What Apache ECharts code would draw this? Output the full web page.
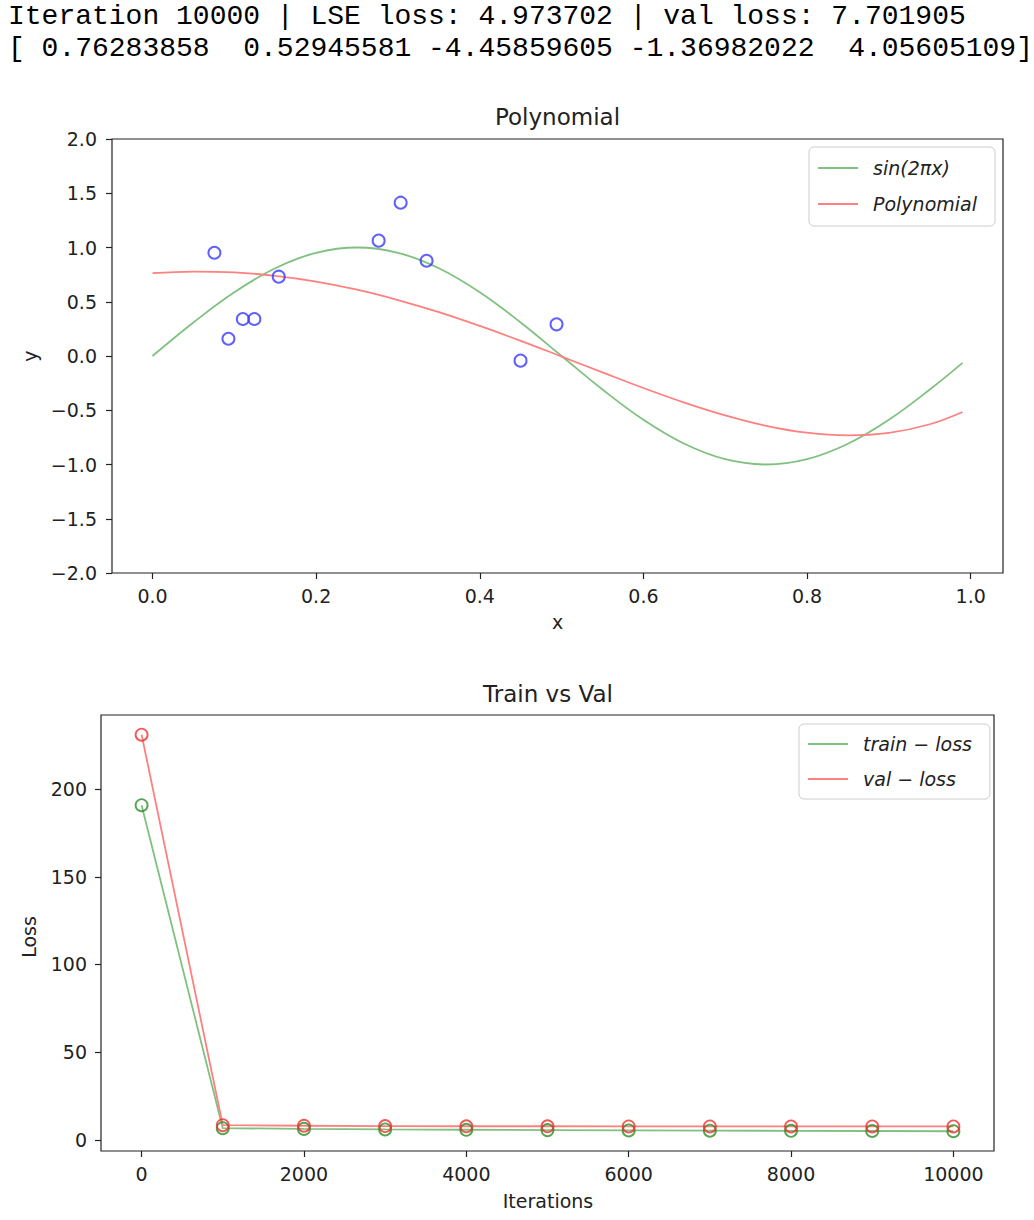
<!DOCTYPE html>
<html><head><meta charset="utf-8">
<script src="https://cdn.jsdelivr.net/npm/echarts@6/dist/echarts.min.js"></script>
<style>html,body{margin:0;padding:0;background:#fff}#c{width:1034px;height:1220px}</style>
</head><body><div id="c"></div>
<script>
// ---- header text ----
const headerLines = [
  "Iteration 10000 | LSE loss: 4.973702 | val loss: 7.701905",
  "[ 0.76283858  0.52945581 -4.45859605 -1.36982022  4.05605109]"
];
// ---- top chart: Polynomial ----
const curveX  = [0.00,0.05,0.10,0.15,0.20,0.25,0.30,0.35,0.40,0.45,0.50,0.55,0.60,0.65,0.70,0.75,0.80,0.85,0.90,0.95,0.99];
const sinY    = [0.000,0.309,0.588,0.809,0.951,1.000,0.951,0.809,0.588,0.309,0.000,-0.309,-0.588,-0.809,-0.951,-1.000,-0.951,-0.809,-0.588,-0.309,-0.063];
const polyY   = [0.763,0.778,0.770,0.739,0.686,0.611,0.516,0.404,0.277,0.140,-0.005,-0.151,-0.295,-0.429,-0.547,-0.643,-0.707,-0.732,-0.709,-0.629,-0.516];
const pointX  = [0.0757,0.0928,0.1104,0.1245,0.1543,0.2764,0.3033,0.3350,0.4498,0.4938];
const pointY  = [0.952,0.159,0.341,0.341,0.731,1.063,1.413,0.878,-0.043,0.292];
const topXTicks = [0.0,0.2,0.4,0.6,0.8,1.0];
// ---- bottom chart: Train vs Val ----
const iterations = [0,1000,2000,3000,4000,5000,6000,7000,8000,9000,10000];
const trainLoss  = [190.8,6.7,6.3,6.0,5.8,5.6,5.4,5.3,5.2,5.1,4.97];
const valLoss    = [231.0,8.4,8.1,7.9,7.8,7.8,7.7,7.7,7.7,7.7,7.70];
const botXTicks  = [0,2000,4000,6000,8000,10000];
const botYTicks  = [0,50,100,150,200];

const FONT = 'DejaVu Sans';
const TXT = '#222';
const zip = (a,b) => a.map((v,i)=>[v,b[i]]);
const minus = s => String(s).replace('-', '\u2212');

function xAxisCfg(grid, min, max, ticks, fmt){
  return {type:'value', gridIndex:grid, min, max,
    axisLine:{show:false, onZero:false}, splitLine:{show:false},
    axisTick:{show:true, inside:false, length:6, customValues:ticks, lineStyle:{color:'#222', width:1.2}},
    axisLabel:{customValues:ticks, formatter:fmt, fontFamily:FONT, fontSize:19, color:TXT, margin:13}};
}
function yAxisCfg(grid, min, max, extra, fmt){
  return Object.assign({type:'value', gridIndex:grid, min, max,
    axisLine:{show:false, onZero:false}, splitLine:{show:false},
    axisTick:{show:true, inside:false, length:6, lineStyle:{color:'#222', width:1.2}},
    axisLabel:{formatter:fmt, fontFamily:FONT, fontSize:19, color:TXT, margin:15}}, extra);
}
const yb = yAxisCfg(1, -6.3, 242.2, {}, v => String(v));
yb.axisTick.customValues = botYTicks; yb.axisLabel.customValues = botYTicks; yb.axisLabel.margin = 14;

const legendBase = {orient:'vertical', icon:'rect', itemWidth:40, itemHeight:2, selectedMode:false,
  borderColor:'#cccccc', borderWidth:1, borderRadius:5, backgroundColor:'rgba(255,255,255,0.8)',
  textStyle:{fontStyle:'italic', fontFamily:FONT, fontSize:19, color:TXT, padding:[0,0,0,10], lineHeight:20}};

function txt(text, x, y, size, extra){
  return Object.assign({type:'text', x, y, silent:true,
    style:{text, fill:TXT, font: size+'px "'+FONT+'"', textAlign:'center', textVerticalAlign:'middle', verticalAlign:'middle', align:'center'}}, extra||{});
}

const option = {
  animation:false,
  backgroundColor:'#fff',
  grid:[
    {left:112, top:139, width:891, height:434, show:true, borderColor:'#222', borderWidth:1.2, backgroundColor:'transparent'},
    {left:101, top:715, width:893, height:436, show:true, borderColor:'#222', borderWidth:1.2, backgroundColor:'transparent'}
  ],
  xAxis:[
    xAxisCfg(0, -0.0495, 1.0395, topXTicks, v => v.toFixed(1)),
    xAxisCfg(1, -500, 10500, botXTicks, v => String(v))
  ],
  yAxis:[
    yAxisCfg(0, -2, 2, {interval:0.5}, v => minus(v.toFixed(1))),
    yb
  ],
  legend:[
    Object.assign({}, legendBase, {left:809, top:147, padding:[11,18,12,9], itemGap:16, data:['sin(2πx)','Polynomial']}),
    Object.assign({}, legendBase, {left:799, top:724, padding:[10,18,10,9], itemGap:15, data:['train − loss','val − loss']})
  ],
  series:[
    {type:'line', name:'sin(2πx)', xAxisIndex:0, yAxisIndex:0, data:zip(curveX, sinY), smooth:0.4, showSymbol:false,
      lineStyle:{color:'#80c080', width:1.8}, itemStyle:{color:'#80c080'}},
    {type:'line', name:'Polynomial', xAxisIndex:0, yAxisIndex:0, data:zip(curveX, polyY), smooth:0.4, showSymbol:false,
      lineStyle:{color:'#ff8080', width:1.8}, itemStyle:{color:'#ff8080'}},
    {type:'scatter', name:'points', xAxisIndex:0, yAxisIndex:0, data:zip(pointX, pointY), symbol:'circle', symbolSize:12,
      itemStyle:{color:'rgba(0,0,0,0)', borderColor:'#3a3aff', borderWidth:2}, z:5},
    {type:'line', name:'train − loss', xAxisIndex:1, yAxisIndex:1, data:zip(iterations, trainLoss), showSymbol:false,
      lineStyle:{color:'#80c080', width:1.8}, itemStyle:{color:'#80c080'}},
    {type:'line', name:'val − loss', xAxisIndex:1, yAxisIndex:1, data:zip(iterations, valLoss), showSymbol:false,
      lineStyle:{color:'#ff8080', width:1.8}, itemStyle:{color:'#ff8080'}},
    {type:'scatter', name:'trainMarks', xAxisIndex:1, yAxisIndex:1, data:zip(iterations, trainLoss), symbol:'circle', symbolSize:12,
      itemStyle:{color:'rgba(0,0,0,0)', borderColor:'#2a8f2a', borderWidth:1.9}, z:5},
    {type:'scatter', name:'valMarks', xAxisIndex:1, yAxisIndex:1, data:zip(iterations, valLoss), symbol:'circle', symbolSize:12,
      itemStyle:{color:'rgba(0,0,0,0)', borderColor:'#f03030', borderWidth:1.9}, z:6}
  ],
  graphic:[
    {type:'text', x:8, y:16, silent:true, style:{text:headerLines[0], fill:'#000', font:'28px "Liberation Mono"', textVerticalAlign:'middle', verticalAlign:'middle'}},
    {type:'text', x:8, y:48, silent:true, style:{text:headerLines[1], fill:'#000', font:'28px "Liberation Mono"', textVerticalAlign:'middle', verticalAlign:'middle'}},
    txt('Polynomial', 557.5, 117, 23),
    txt('Train vs Val', 548, 694, 23),
    txt('x', 557.5, 622, 19),
    txt('Iterations', 548, 1201, 19),
    txt('y', 30, 356, 19, {rotation:Math.PI/2}),
    txt('Loss', 29, 937, 19, {rotation:Math.PI/2})
  ]
};
const chart = echarts.init(document.getElementById('c'), null, {renderer:'svg', width:1034, height:1220});
chart.setOption(option);
</script></body></html>
